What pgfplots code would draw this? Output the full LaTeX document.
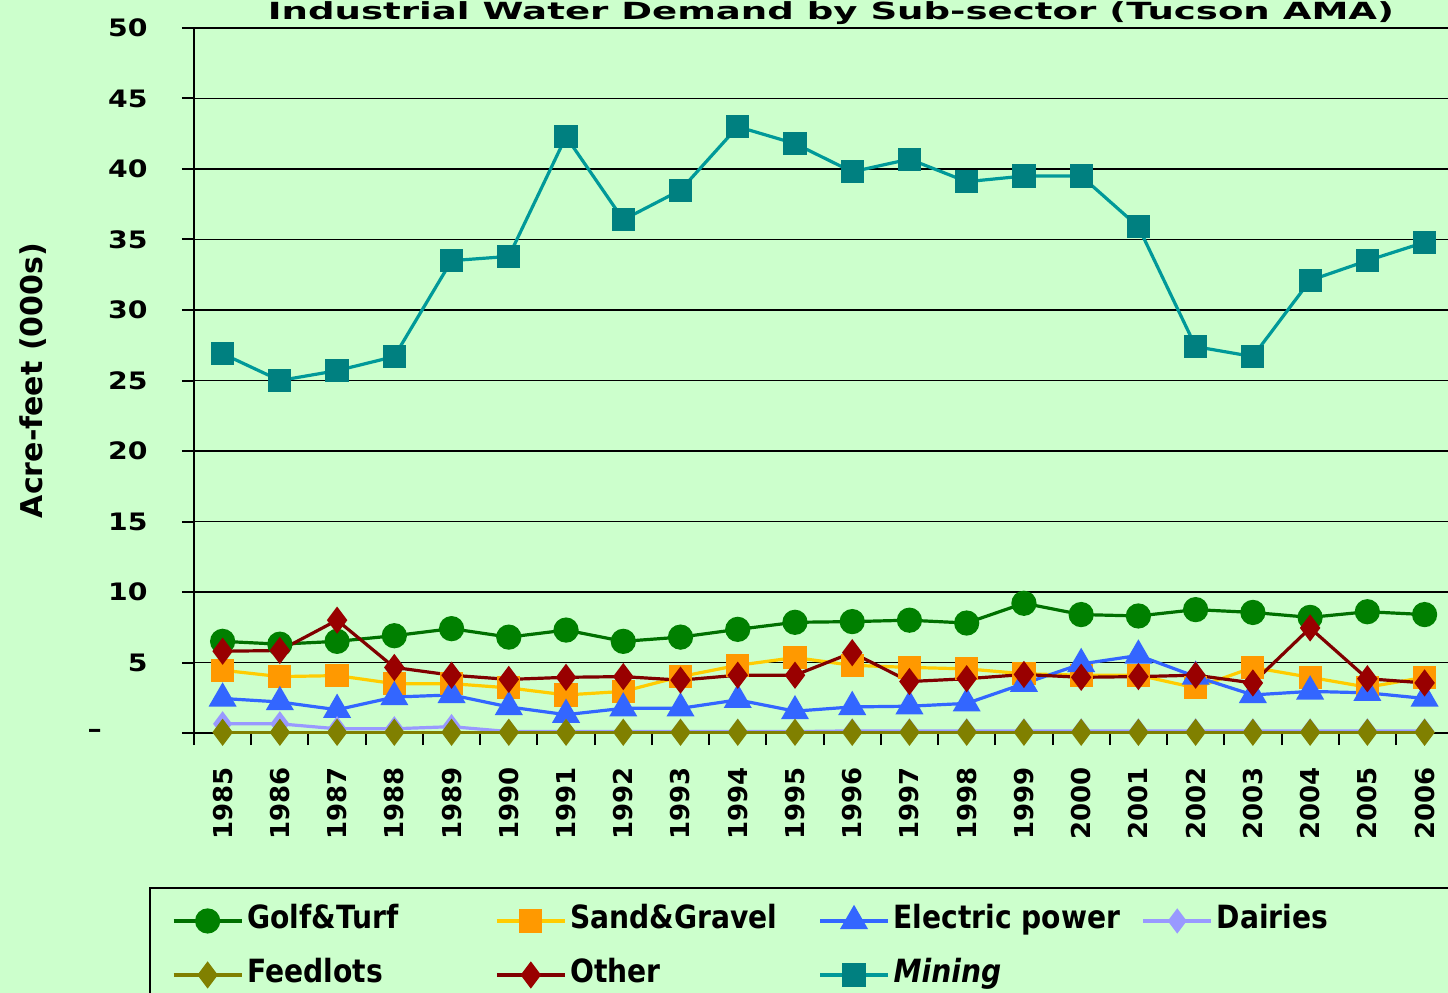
\documentclass[border=0pt]{standalone}
\usepackage{fontspec}
\setmainfont{DejaVu Sans}
\newfontfamily\yfont{DejaVu Sans}[FakeStretch=1.18]
\newfontfamily\legfont{DejaVu Sans}[FakeStretch=0.88]
\usepackage{graphicx}
\usepackage{pgfplots}
\pgfplotsset{compat=1.18}
\usepackage{pgfplotstable}
\definecolor{bg}{HTML}{CCFFCC}
\definecolor{golf}{HTML}{008000}
\definecolor{golfl}{HTML}{007000}
\definecolor{sandm}{HTML}{FF9900}
\definecolor{sandl}{HTML}{FFCC00}
\definecolor{elec}{HTML}{3366FF}
\definecolor{dairy}{HTML}{9999FF}
\definecolor{feed}{HTML}{808000}
\definecolor{other}{HTML}{990000}
\definecolor{otherl}{HTML}{800000}
\definecolor{mining}{HTML}{008080}
\definecolor{miningl}{HTML}{009999}

\pgfplotstableread{
idx golf sand elec dairy feed other mining
0  6.5  4.45 2.45 0.65 0.05 5.8  26.9
1  6.3  4.0  2.2  0.65 0.05 5.85 25.0
2  6.5  4.07 1.65 0.3  0.05 8.0  25.7
3  6.9  3.5  2.55 0.3  0.05 4.65 26.7
4  7.4  3.5  2.7  0.45 0.05 4.1  33.5
5  6.8  3.2  1.85 0.1  0.05 3.8  33.8
6  7.3  2.7  1.3  0.1  0.05 3.95 42.3
7  6.5  2.95 1.75 0.1  0.05 4.0  36.4
8  6.8  4.0  1.75 0.1  0.05 3.75 38.5
9  7.35 4.8  2.35 0.1  0.05 4.1  43.0
10 7.85 5.35 1.55 0.1  0.05 4.1  41.8
11 7.9  4.8  1.85 0.15 0.05 5.7  39.8
12 8.0  4.65 1.9  0.15 0.05 3.65 40.7
13 7.8  4.55 2.1  0.15 0.05 3.85 39.1
14 9.2  4.2  3.5  0.15 0.05 4.15 39.5
15 8.4  4.1  4.9  0.15 0.05 3.95 39.5
16 8.3  4.1  5.5  0.15 0.05 4.0  35.9
17 8.75 3.2  4.0  0.15 0.05 4.1  27.4
18 8.55 4.65 2.7  0.15 0.05 3.55 26.7
19 8.2  3.95 2.95 0.15 0.05 7.45 32.1
20 8.6  3.25 2.85 0.15 0.05 3.85 33.5
21 8.4  3.95 2.45 0.15 0.05 3.55 34.8
}\datatab

\begin{document}
\begin{tikzpicture}
\fill[bg] (-97bp,-130bp) rectangle (627bp,366.5bp);
\begin{axis}[
  at={(0,0)}, anchor=south west,
  scale only axis, width=629.6bp, height=352.5bp,
  xmin=-0.5, xmax=21.5, ymin=0, ymax=50,
  axis x line*=bottom, axis y line*=left,
  axis line style={black, line width=1bp, -},
  ytick={0,5,...,50},
  yticklabels={{\makebox[30bp][l]{\textendash}},5,10,15,20,25,30,35,40,45,50},
  ymajorgrids,
  major grid style={black, line width=0.9bp},
  tick align=outside, major tick length=6bp, minor tick length=6bp,
  xtick={0,...,21},
  xticklabels={1985,1986,1987,1988,1989,1990,1991,1992,1993,1994,1995,1996,1997,1998,1999,2000,2001,2002,2003,2004,2005,2006},
  major x tick style={draw=none},
  minor xtick={-0.5,0.5,...,21.5},
  minor x tick style={black, line width=1bp},
  y tick style={black, line width=1bp},
  xticklabel style={rotate=90, anchor=east, inner sep=0pt, font=\bfseries\fontsize{13bp}{15bp}\selectfont},
  xticklabel shift=11bp,
  yticklabel style={anchor=east, inner sep=0pt, font=\yfont\bfseries\fontsize{12bp}{14bp}\selectfont},
  yticklabel shift=17bp,
  ylabel={Acre-feet (000s)},
  ylabel style={at={(axis description cs:-0.128,0.5)}, anchor=center, rotate=0, font=\bfseries\fontsize{15bp}{17bp}\selectfont},
  legend columns=4,
  legend style={at={(axis description cs:-0.0357,-0.2184)}, anchor=north west,
    draw=black, line width=1bp, fill=bg, inner xsep=11bp, inner ysep=7bp,
    column sep=0pt, row sep=8bp,
    font=\legfont\bfseries\fontsize{16bp}{18bp}\selectfont,
    nodes={inner sep=2bp, text height=11.5bp, text depth=3.5bp}},
  legend image code/.code={\draw[mark repeat=2, mark phase=2] plot coordinates {(0bp,0bp) (17bp,0bp) (34bp,0bp)};},
  every axis plot/.append style={line width=1.6bp, mark options={solid}},
]
\addplot[color=golfl, mark=*, mark size=5.5bp, mark options={fill=golf, draw=golf}] table[x=idx,y=golf]{\datatab};
\addlegendentry{\makebox[122bp][l]{Golf\&Turf}}
\addplot[color=sandl, mark=square*, mark size=5bp, mark options={fill=sandm, draw=sandm}] table[x=idx,y=sand]{\datatab};
\addlegendentry{\makebox[122bp][l]{Sand\&Gravel}}
\addplot[color=elec, mark=triangle*, mark size=6.5bp, mark options={fill=elec, draw=elec}] table[x=idx,y=elec]{\datatab};
\addlegendentry{\makebox[122bp][l]{Electric power}}
\addplot[color=dairy, mark=diamond*, mark size=5bp, mark options={fill=dairy, draw=dairy}] table[x=idx,y=dairy]{\datatab};
\addlegendentry{\makebox[122bp][l]{Dairies}}
\addplot[color=feed, mark=diamond*, mark size=5.5bp, mark options={fill=feed, draw=feed}] table[x=idx,y=feed]{\datatab};
\addlegendentry{\makebox[122bp][l]{Feedlots}}
\addplot[color=otherl, mark=diamond*, mark size=5.5bp, mark options={fill=other, draw=other}] table[x=idx,y=other]{\datatab};
\addlegendentry{\makebox[122bp][l]{Other}}
\addplot[color=miningl, mark=square*, mark size=5bp, mark options={fill=mining, draw=mining}] table[x=idx,y=mining]{\datatab};
\addlegendentry{\makebox[122bp][l]{\itshape Mining}}
\end{axis}
\node[anchor=north, inner sep=0pt] at (318.5bp,366bp) {\resizebox*{563bp}{11.5bp}{\bfseries Industrial Water Demand by Sub-sector (Tucson AMA)}};
\pgfresetboundingbox
\useasboundingbox (-97bp,-130bp) rectangle (627bp,366.5bp);
\end{tikzpicture}
\end{document}
